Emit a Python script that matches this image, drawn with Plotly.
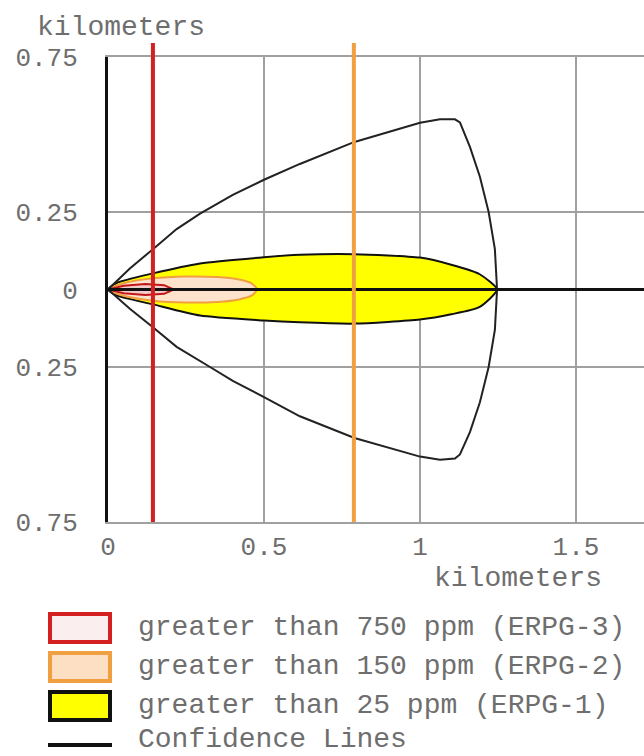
import plotly.graph_objects as go

# ---------------- data (kilometers) ----------------
conf_x = [0.0, 0.07, 0.144, 0.22, 0.295, 0.4, 0.5, 0.615, 0.79, 1.0, 1.064, 1.112, 1.128,
          1.16, 1.192, 1.22, 1.24, 1.247,
          1.24, 1.22, 1.192, 1.16, 1.128, 1.112, 1.064, 1.0, 0.79, 0.615, 0.5, 0.4, 0.327, 0.22, 0.144, 0.07, 0.0]
conf_y = [0.0, 0.068, 0.130, 0.195, 0.245, 0.305, 0.354, 0.405, 0.476, 0.538, 0.549, 0.549, 0.539,
          0.46, 0.364, 0.25, 0.13, 0.0,
          -0.13, -0.25, -0.364, -0.46, -0.532, -0.545, -0.549, -0.539, -0.479, -0.409, -0.347, -0.295, -0.25, -0.185, -0.122, -0.062, 0.0]

erpg1_x = [0.0, 0.03, 0.144, 0.295, 0.5, 0.615, 0.79, 1.0, 1.1, 1.19, 1.247,
           1.19, 1.1, 1.0, 0.79, 0.615, 0.5, 0.295, 0.144, 0.03, 0.0]
erpg1_y = [0.0, 0.022, 0.052, 0.084, 0.104, 0.112, 0.114, 0.103, 0.08, 0.05, 0.0,
           -0.057, -0.08, -0.097, -0.11, -0.106, -0.1, -0.084, -0.048, -0.02, 0.0]

erpg2_x = [0.0, 0.05, 0.144, 0.25, 0.35, 0.42, 0.46, 0.478,
           0.46, 0.42, 0.35, 0.25, 0.144, 0.05, 0.0]
erpg2_y = [0.0, 0.02, 0.036, 0.042, 0.04, 0.032, 0.02, 0.0,
           -0.02, -0.032, -0.04, -0.042, -0.036, -0.02, 0.0]

erpg3_x = [0.0, 0.05, 0.12, 0.18, 0.21, 0.18, 0.12, 0.05, 0.0]
erpg3_y = [0.0, 0.012, 0.018, 0.014, 0.0, -0.014, -0.018, -0.012, 0.0]

red_line_x = 0.144
orange_line_x = 0.788

x_tickvals = [0, 0.5, 1, 1.5]
x_ticktext = ["0", "0.5", "1", "1.5"]
y_tickvals = [-0.75, -0.25, 0, 0.25, 0.75]
y_ticktext = ["0.75", "0.25", "0", "0.25", "0.75"]

legend_labels = ["greater than 750 ppm (ERPG-3)",
                 "greater than 150 ppm (ERPG-2)",
                 "greater than 25 ppm (ERPG-1)",
                 "Confidence Lines"]

# ---------------- layout geometry ----------------
W, H = 644, 756
L, R, T, B = 108, 0, 57, 234
PW, PH = W - L - R, H - T - B
FONT = "Liberation Mono, Courier New, monospace"
TXT = "#6e6e6e"
GRID = "#a0a0a0"


def px(x):
    return (x - L) / PW


def py(y):
    return (H - B - y) / PH


fig = go.Figure()
fig.add_trace(go.Scatter(x=erpg1_x, y=erpg1_y, fill="toself", fillcolor="#ffff00",
                         line=dict(color="#111111", width=2, shape="spline", smoothing=0.6),
                         mode="lines", hoverinfo="skip"))
fig.add_trace(go.Scatter(x=erpg2_x, y=erpg2_y, fill="toself", fillcolor="#fde3cc",
                         line=dict(color="#f0a040", width=2, shape="spline", smoothing=0.6),
                         mode="lines", hoverinfo="skip"))
fig.add_trace(go.Scatter(x=erpg3_x, y=erpg3_y, fill="toself", fillcolor="#f3cccc",
                         line=dict(color="#c01818", width=2), mode="lines", hoverinfo="skip"))
fig.add_trace(go.Scatter(x=conf_x, y=conf_y, mode="lines",
                         line=dict(color="#222222", width=2), hoverinfo="skip"))

shapes = []
# centre line
shapes.append(dict(type="line", xref="paper", yref="y", x0=0, x1=1, y0=0, y1=0,
                   line=dict(color="#111111", width=3), layer="above"))
# vertical threat lines
shapes.append(dict(type="line", xref="x", yref="paper", x0=red_line_x, x1=red_line_x,
                   y0=0, y1=py(43), line=dict(color="#d42020", width=4), layer="above"))
shapes.append(dict(type="line", xref="x", yref="paper", x0=orange_line_x, x1=orange_line_x,
                   y0=0, y1=py(43), line=dict(color="#f0a040", width=4), layer="above"))

# legend
rows = [627, 666, 705, 739]
sw = [("#d42020", "#fbeeee"), ("#f0a040", "#fde0c4"), ("#111111", "#ffff00")]
for i, (lc, fc) in enumerate(sw):
    yc = rows[i] + 1
    shapes.append(dict(type="rect", xref="paper", yref="paper",
                       x0=px(50), x1=px(110), y0=py(yc - 14), y1=py(yc + 14),
                       line=dict(color=lc, width=4), fillcolor=fc))
shapes.append(dict(type="line", xref="paper", yref="paper",
                   x0=px(48), x1=px(112), y0=py(745), y1=py(745),
                   line=dict(color="#111111", width=4)))

annotations = []
for i, lab in enumerate(legend_labels):
    annotations.append(dict(text=lab, xref="paper", yref="paper", x=px(136), y=py(rows[i]),
                            xanchor="left", yanchor="middle", showarrow=False,
                            font=dict(family=FONT, size=28, color=TXT)))
annotations.append(dict(text="kilometers", xref="paper", yref="paper", x=px(35), y=py(27),
                        xanchor="left", yanchor="middle", showarrow=False,
                        font=dict(family=FONT, size=28, color=TXT)))
annotations.append(dict(text="kilometers", xref="paper", yref="paper", x=px(432), y=py(578),
                        xanchor="left", yanchor="middle", showarrow=False,
                        font=dict(family=FONT, size=28, color=TXT)))

fig.update_layout(
    width=W, height=H,
    margin=dict(l=L, r=R, t=T, b=B, pad=0),
    paper_bgcolor="white", plot_bgcolor="white",
    showlegend=False,
    shapes=shapes, annotations=annotations,
    xaxis=dict(range=[0, PW / 312.0], tickvals=x_tickvals, ticktext=x_ticktext,
               showgrid=True, gridcolor=GRID, gridwidth=2, zeroline=False,
               showline=True, linecolor=GRID, linewidth=2, mirror=True,
               ticks="", ticklabelstandoff=0,
               tickfont=dict(family=FONT, size=26, color=TXT), fixedrange=True),
    yaxis=dict(range=[-0.75, 0.75], tickvals=y_tickvals, ticktext=y_ticktext,
               showgrid=True, gridcolor=GRID, gridwidth=2, zeroline=False,
               showline=True, linecolor="#111111", linewidth=3, mirror=False,
               ticks="", ticklabelstandoff=22,
               tickfont=dict(family=FONT, size=26, color=TXT), fixedrange=True),
)

fig.write_html("out.html")
